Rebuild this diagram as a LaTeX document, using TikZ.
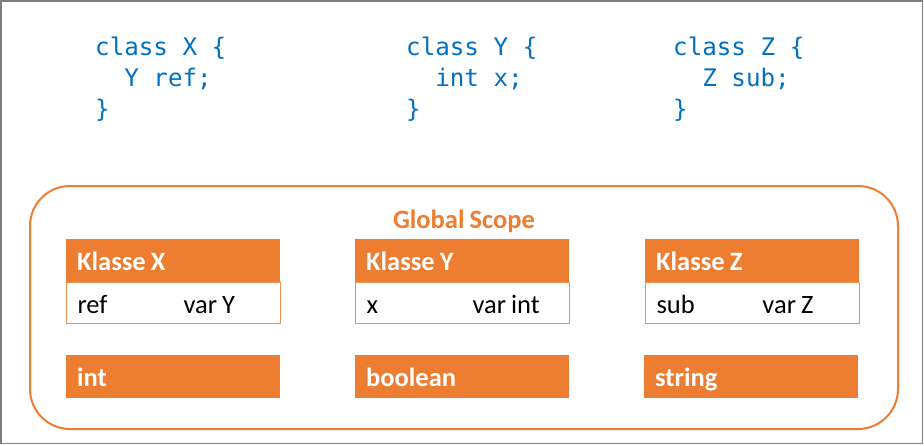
\documentclass[tikz,border=0pt]{standalone}
\usepackage{fontspec}
\setmainfont{Carlito}[WordSpace=0.85]
\newfontfamily\codefont{DejaVu Sans Mono}
\definecolor{accent}{HTML}{ED7D31}
\definecolor{codeblue}{HTML}{0070C0}
\definecolor{framegray}{HTML}{7F7F7F}
\newcommand{\rowtext}[1]{\makebox[192pt][l]{#1}}
\begin{document}
\begin{tikzpicture}[x=1pt,y=-1pt,
  code/.style={anchor=base west,inner sep=0,text=codeblue,font=\codefont\fontsize{24.2}{28}\selectfont},
  hdr/.style={anchor=north west,fill=accent,text=white,font=\fontsize{26.5}{30}\selectfont\bfseries,
    inner xsep=11pt,inner ysep=0,minimum height=43pt,text height=20pt,text depth=0pt},
  bodybox/.style={anchor=north west,fill=white,draw=accent!85,line width=1pt,text=black,font=\fontsize{26.5}{30}\selectfont,
    inner xsep=11pt,inner ysep=0,minimum height=41pt,text height=20pt,text depth=0pt},
  title/.style={anchor=base,text=accent,font=\fontsize{26.5}{30}\selectfont\bfseries,inner sep=0}
]
\useasboundingbox (0,0) rectangle (924,445);
\draw[framegray,line width=1.5pt] (0.75,0.75) rectangle (922.5,443.5);

% code
\node[code] (x1) at (95,55) {class X \{};
\node[code] (x2) at (95,86) {\phantom{cl}Y ref;};
\node[code] (x3) at (95,117) {\}};
\node[code] (y1) at (406,55) {class Y \{};
\node[code] (y2) at (406,86) {\phantom{cl}int x;};
\node[code] (y3) at (406,117) {\}};
\node[code] (z1) at (673,55) {class Z \{};
\node[code] (z2) at (673,86) {\phantom{cl}Z sub;};
\node[code] (z3) at (673,117) {\}};

% global scope
\draw[accent,line width=2pt,rounded corners=40pt] (30,186) rectangle (898,429);
\node[title] (gs) at (464,228) {Global Scope};

% classes
\node[hdr] (kx) at (66,239) {\rowtext{Klasse X}};
\node[bodybox] (bx) at (66,282) {\rowtext{\makebox[106pt][l]{ref}var Y}};
\node[hdr] (ky) at (355,239) {\rowtext{Klasse Y}};
\node[bodybox] (by) at (355,282) {\rowtext{\makebox[106pt][l]{x}var int}};
\node[hdr] (kz) at (645,239) {\rowtext{Klasse Z}};
\node[bodybox] (bz) at (645,282) {\rowtext{\makebox[106pt][l]{sub}var Z}};

% types
\node[hdr] (ti) at (66,355) {\rowtext{int}};
\node[hdr] (tb) at (355,355) {\rowtext{boolean}};
\node[hdr] (ts) at (644,355) {\rowtext{string}};
\end{tikzpicture}
\end{document}
